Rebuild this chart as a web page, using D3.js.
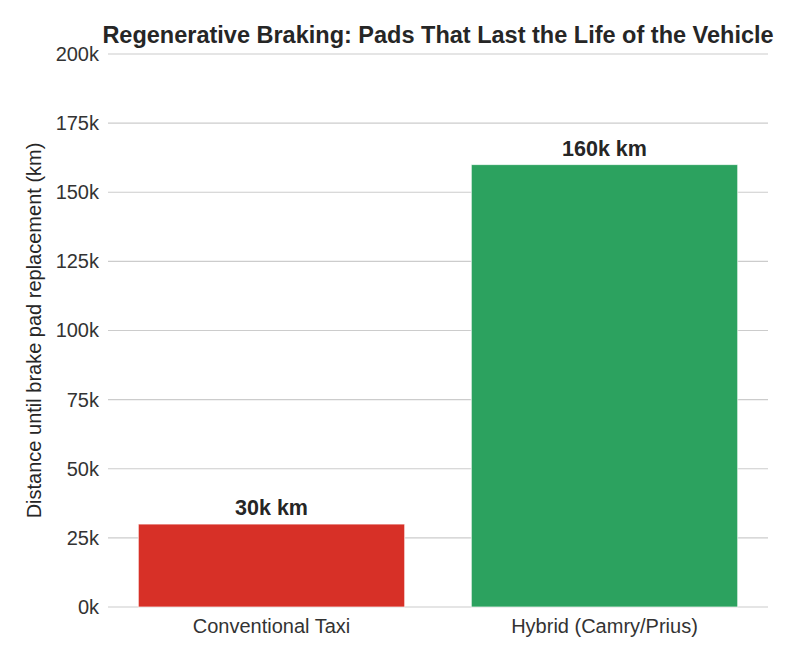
<!DOCTYPE html>
<html>
<head>
<meta charset="utf-8">
<script src="https://cdn.jsdelivr.net/npm/d3@7"></script>
<style>
  body { margin: 0; background: #fff; }
  svg { font-family: "Liberation Sans", Arial, sans-serif; }
</style>
</head>
<body>
<div id="chart"></div>
<script>
const categories = ["Conventional Taxi", "Hybrid (Camry/Prius)"];
const distances = [30000, 160000];
const barLabels = ["30k km", "160k km"];
const barColors = ["#d73027", "#2ca25f"];
const yTicks = [0, 25000, 50000, 75000, 100000, 125000, 150000, 175000, 200000];

const w = 800;
const h = 664;
const margin = { top: 54, right: 32, bottom: 57, left: 108 };

const svg = d3.select("#chart").append("svg").attr("width", w).attr("height", h);

// bars sit on positions 0 and 1, x limits -0.5..1.5 (a bit wider than the gridlines)
const x = d3.scaleBand().domain(categories).range([105, 771]).paddingInner(0.2).paddingOuter(0.1);
const y = d3.scaleLinear().domain([0, 200000]).range([h - margin.bottom, margin.top]);

// gridlines
svg.append("g")
  .selectAll("line")
  .data(yTicks)
  .enter()
  .append("line")
  .attr("x1", margin.left)
  .attr("x2", w - margin.right)
  .attr("y1", (d) => y(d))
  .attr("y2", (d) => y(d))
  .attr("stroke", "#cccccc")
  .attr("stroke-width", 1.1);

const yAxis = svg.append("g")
  .attr("transform", `translate(${margin.left}, 0)`)
  .call(d3.axisLeft(y).tickValues(yTicks).tickSize(0).tickPadding(9).tickFormat((d) => d / 1000 + "k"));
yAxis.select(".domain").remove();
yAxis.selectAll("text").attr("font-size", 20).attr("fill", "#333");

const xAxis = svg.append("g")
  .attr("transform", `translate(0, ${h - margin.bottom})`)
  .call(d3.axisBottom(x).tickSize(0).tickPadding(12));
xAxis.select(".domain").remove();
xAxis.selectAll("text").attr("font-size", 20).attr("fill", "#333");

svg.selectAll("rect.bar")
  .data(categories)
  .enter()
  .append("rect")
  .attr("class", "bar")
  .attr("x", (d) => x(d))
  .attr("width", x.bandwidth())
  .attr("y", (d, i) => y(distances[i]))
  .attr("height", (d, i) => y(0) - y(distances[i]))
  .attr("fill", (d, i) => barColors[i])
  .attr("stroke", "#ffffff")
  .attr("stroke-opacity", 0.7)
  .attr("stroke-width", 1);

svg.selectAll("text.val")
  .data(categories)
  .enter()
  .append("text")
  .attr("class", "val")
  .attr("x", (d) => x(d) + x.bandwidth() / 2)
  .attr("y", (d, i) => y(distances[i]) - 9)
  .attr("text-anchor", "middle")
  .attr("font-size", 21.5)
  .attr("font-weight", "bold")
  .attr("fill", "#262626")
  .text((d, i) => barLabels[i]);

svg.append("text")
  .attr("x", (margin.left + w - margin.right) / 2)
  .attr("y", 43)
  .attr("text-anchor", "middle")
  .attr("font-size", 23.5)
  .attr("font-weight", "bold")
  .attr("fill", "#262626")
  .text("Regenerative Braking: Pads That Last the Life of the Vehicle");

svg.append("text")
  .attr("transform", `translate(41, ${(margin.top + h - margin.bottom) / 2}) rotate(-90)`)
  .attr("text-anchor", "middle")
  .attr("font-size", 20)
  .attr("fill", "#262626")
  .text("Distance until brake pad replacement (km)");
</script>
</body>
</html>
